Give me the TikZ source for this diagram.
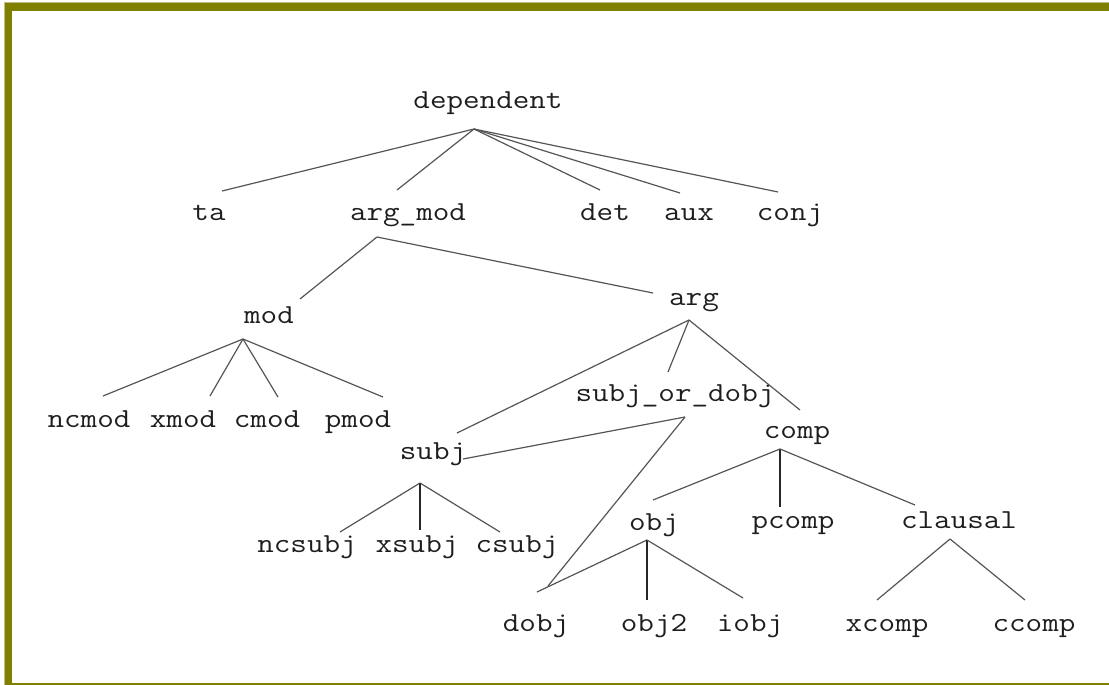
\documentclass[tikz,border=0pt]{standalone}
\usepackage{fontspec}
\setmonofont{Latin Modern Mono}[FakeStretch=1.17]
\definecolor{frameolive}{HTML}{808000}
\definecolor{framelight}{HTML}{C4BC88}
\definecolor{edgegray}{HTML}{555555}
\definecolor{txt}{HTML}{1E1E1E}
\tikzset{
  lbl/.style={anchor=base, inner sep=0pt, text=txt, font=\fontsize{27.5}{32}\selectfont\ttfamily},
  edge/.style={draw=edgegray, line width=1.2pt},
  vedge/.style={draw=black!85, line width=1.2pt}
}
\begin{document}
\begin{tikzpicture}[x=1pt,y=-1pt]
\useasboundingbox (0,0) rectangle (1109,685);
% frame
\fill[framelight] (3.5,2.5) rectangle (1109,11);
\fill[framelight] (3.5,2.5) rectangle (12,685);
\fill[frameolive] (4.5,3.5) rectangle (1109,11);
\fill[frameolive] (4.5,3.5) rectangle (12,685);
\fill[frameolive] (12,683.3) rectangle (1109,685);

% labels
\node[lbl] (dep) at (488,108) {dependent};
\node[lbl] (ta) at (209,220) {ta};
\node[lbl] (argmod) at (408,220) {arg\_mod};
\node[lbl] (det) at (605,220) {det};
\node[lbl] (aux) at (689,220) {aux};
\node[lbl] (conj) at (790,220) {conj};
\node[lbl] (mod) at (269,323) {mod};
\node[lbl] (arg) at (694,305) {arg};
\node[lbl] (ncmod) at (89,427) {ncmod};
\node[lbl] (xmod) at (183,427) {xmod};
\node[lbl] (cmod) at (267,427) {cmod};
\node[lbl] (pmod) at (358,427) {pmod};
\node[lbl] (sod) at (675,401) {subj\_or\_dobj};
\node[lbl] (comp) at (797,438) {comp};
\node[lbl] (subj) at (433,459) {subj};
\node[lbl] (ncsubj) at (307,552) {ncsubj};
\node[lbl] (xsubj) at (417,552) {xsubj};
\node[lbl] (csubj) at (517,552) {csubj};
\node[lbl] (obj) at (654,530) {obj};
\node[lbl] (pcomp) at (793,528) {pcomp};
\node[lbl] (clausal) at (959,528) {clausal};
\node[lbl] (dobj) at (536,631) {dobj};
\node[lbl] (obj2) at (654,631) {obj2};
\node[lbl] (iobj) at (750,631) {iobj};
\node[lbl] (xcomp) at (887,631) {xcomp};
\node[lbl] (ccomp) at (1034,631) {ccomp};

% hubs (bottom attachment points)
\coordinate (h-dep) at (474,129);
\coordinate (h-argmod) at (377,237);
\coordinate (h-mod) at (243,339);
\coordinate (h-arg) at (689,320);
\coordinate (h-sod) at (685,417);
\coordinate (h-subj) at (420,483);
\coordinate (h-comp) at (780,449);
\coordinate (h-obj) at (647,540);
\coordinate (h-clausal) at (950,539);

% entry points (top attachment points)
\coordinate (t-ta) at (222,191);
\coordinate (t-argmod) at (397,190);
\coordinate (t-det) at (600,190);
\coordinate (t-aux) at (680,193);
\coordinate (t-conj) at (778,192);
\coordinate (t-mod) at (300,299);
\coordinate (t-arg) at (653,293);
\coordinate (t-ncmod) at (103,396);
\coordinate (t-xmod) at (210,396);
\coordinate (t-cmod) at (278,397);
\coordinate (t-pmod) at (383,397);
\coordinate (t-subj-a) at (457,433);
\coordinate (t-subj-b) at (463,459);
\coordinate (t-sod) at (668,372);
\coordinate (t-comp) at (800,410);
\coordinate (t-ncsubj) at (340,532);
\coordinate (t-xsubj) at (420,530);
\coordinate (t-csubj) at (500,532);
\coordinate (t-obj) at (653,500);
\coordinate (t-pcomp) at (780,507);
\coordinate (t-clausal) at (915,505);
\coordinate (t-dobj-a) at (548,586);
\coordinate (t-dobj-b) at (537,592);
\coordinate (t-obj2) at (647,600);
\coordinate (t-iobj) at (743,598);
\coordinate (t-xcomp) at (877,600);
\coordinate (t-ccomp) at (1025,600);

% edges
\draw[edge] (h-dep) -- (t-ta);
\draw[edge] (h-dep) -- (t-argmod);
\draw[edge] (h-dep) -- (t-det);
\draw[edge] (h-dep) -- (t-aux);
\draw[edge] (h-dep) -- (t-conj);
\draw[edge] (h-argmod) -- (t-mod);
\draw[edge] (h-argmod) -- (t-arg);
\draw[edge] (h-mod) -- (t-ncmod);
\draw[edge] (h-mod) -- (t-xmod);
\draw[edge] (h-mod) -- (t-cmod);
\draw[edge] (h-mod) -- (t-pmod);
\draw[edge] (h-arg) -- (t-subj-a);
\draw[edge] (h-arg) -- (t-sod);
\draw[edge] (h-arg) -- (t-comp);
\draw[edge] (h-sod) -- (t-subj-b);
\draw[edge] (h-sod) -- (t-dobj-a);
\draw[edge] (h-subj) -- (t-ncsubj);
\draw[vedge] (h-subj) -- (t-xsubj);
\draw[edge] (h-subj) -- (t-csubj);
\draw[edge] (h-comp) -- (t-obj);
\draw[vedge] (h-comp) -- (t-pcomp);
\draw[edge] (h-comp) -- (t-clausal);
\draw[edge] (h-obj) -- (t-dobj-b);
\draw[vedge] (h-obj) -- (t-obj2);
\draw[edge] (h-obj) -- (t-iobj);
\draw[edge] (h-clausal) -- (t-xcomp);
\draw[edge] (h-clausal) -- (t-ccomp);
\end{tikzpicture}
\end{document}
